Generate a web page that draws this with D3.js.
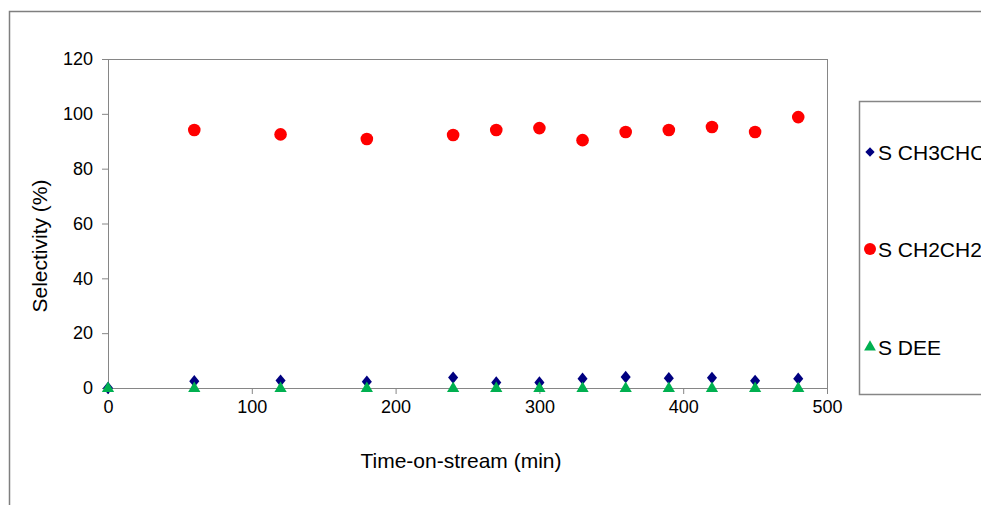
<!DOCTYPE html>
<html>
<head>
<meta charset="utf-8">
<script src="https://cdn.jsdelivr.net/npm/d3@7"></script>
<style>
	body { margin: 0; background: #fff; }
	svg { display: block; font-family: "Liberation Sans", Arial, sans-serif; }
	.axis path, .axis line { stroke: #868686; }
	.axis text { fill: #000; }
</style>
</head>
<body>
<svg id="chart" width="981" height="505"></svg>
<script>
// time on stream, min
var times = [0, 60, 120, 180, 240, 270, 300, 330, 360, 390, 420, 450, 480];
// selectivities, %
var sCH3CHO = [0, 2.5, 2.7, 2.3, 3.8, 2.0, 2.0, 3.4, 4.0, 3.6, 3.7, 2.6, 3.4];
var sCH2CH2 = [null, 94.1, 92.5, 90.8, 92.3, 94.1, 94.8, 90.4, 93.4, 94.1, 95.2, 93.4, 98.8];
var sDEE = [0, 0, 0, 0, 0, 0, 0, 0, 0, 0, 0, 0, 0];
var xTicks = [0, 100, 200, 300, 400, 500];
var yTicks = [0, 20, 40, 60, 80, 100, 120];
var legendNames = ["S CH3CHO", "S CH2CH2", "S DEE"];

var svg = d3.select("#chart");

// внешняя рамка
svg.append("path")
	.attr("d", "M9.5,505 V11.5 H981")
	.attr("fill", "none")
	.attr("stroke", "#7f7f7f")
	.attr("stroke-width", 1.5);

var margin = {top: 59, left: 108},
	width = 719,
	height = 329;

var g = svg.append("g")
	.attr("transform", "translate(" + margin.left + "," + margin.top + ")");

var x = d3.scaleLinear().domain([0, 500]).range([0, width]),
	y = d3.scaleLinear().domain([0, 120]).range([height, 0]);

// рамка области графика
g.append("rect")
	.attr("x", 0.5)
	.attr("y", 0.5)
	.attr("width", width)
	.attr("height", height)
	.attr("fill", "none")
	.attr("stroke", "#868686");

g.append("g")
	.attr("class", "axis")
	.attr("transform", "translate(0," + height + ")")
	.call(d3.axisBottom(x).tickValues(xTicks).tickSize(6).tickPadding(6).tickSizeOuter(0));

g.append("g")
	.attr("class", "axis")
	.call(d3.axisLeft(y).tickValues(yTicks).tickSize(6).tickPadding(9).tickSizeOuter(0));

g.selectAll(".axis text")
	.attr("font-family", null)
	.attr("font-size", null)
	.style("font-size", "18px");

// подписи осей
svg.append("text")
	.attr("x", 461)
	.attr("y", 468)
	.attr("text-anchor", "middle")
	.style("font-size", "21px")
	.text("Time-on-stream (min)");

svg.append("text")
	.attr("transform", "translate(47,246) rotate(-90)")
	.attr("text-anchor", "middle")
	.style("font-size", "21px")
	.text("Selectivity (%)");

var diamond = d3.symbol().type(d3.symbolDiamond2).size(80),
	triangle = d3.symbol().type(d3.symbolTriangle).size(65);

function rows(vals) {
	return times.map(function(t, i) { return {t: t, v: vals[i]}; })
		.filter(function(d) { return d.v !== null; });
}

g.selectAll(".ch3cho")
	.data(rows(sCH3CHO))
	.enter().append("path")
	.attr("class", "ch3cho")
	.attr("d", diamond)
	.attr("fill", "#000080")
	.attr("transform", function(d) { return "translate(" + x(d.t) + "," + y(d.v) + ") scale(0.9,1.1)"; });

g.selectAll(".ch2ch2")
	.data(rows(sCH2CH2))
	.enter().append("circle")
	.attr("class", "ch2ch2")
	.attr("r", 6.3)
	.attr("fill", "#ff0000")
	.attr("cx", function(d) { return x(d.t); })
	.attr("cy", function(d) { return y(d.v); });

g.selectAll(".dee")
	.data(rows(sDEE))
	.enter().append("path")
	.attr("class", "dee")
	.attr("d", triangle)
	.attr("fill", "#00b050")
	.attr("transform", function(d) { return "translate(" + x(d.t) + "," + (y(d.v) + 0.5) + ")"; });

// легенда
var legend = svg.append("g");
legend.append("rect")
	.attr("x", 859.5)
	.attr("y", 101.5)
	.attr("width", 140)
	.attr("height", 293)
	.attr("fill", "#fff")
	.attr("stroke", "#868686")
	.attr("stroke-width", 1.5);

var ly = [152, 249, 347];
var item = legend.selectAll(".item")
	.data(legendNames)
	.enter().append("g")
	.attr("transform", function(d, i) { return "translate(870," + ly[i] + ")"; });

item.append("path")
	.attr("d", function(d, i) {
		if (i === 0) return d3.symbol().type(d3.symbolDiamond2).size(55)();
		if (i === 2) return d3.symbol().type(d3.symbolTriangle).size(60)();
		return null;
	})
	.attr("fill", function(d, i) { return i === 0 ? "#000080" : "#00b050"; });

item.filter(function(d, i) { return i === 1; })
	.append("circle")
	.attr("r", 6)
	.attr("fill", "#ff0000");

item.append("text")
	.attr("x", 8)
	.attr("dy", "0.36em")
	.style("font-size", "21px")
	.text(function(d) { return d; });
</script>
</body>
</html>
